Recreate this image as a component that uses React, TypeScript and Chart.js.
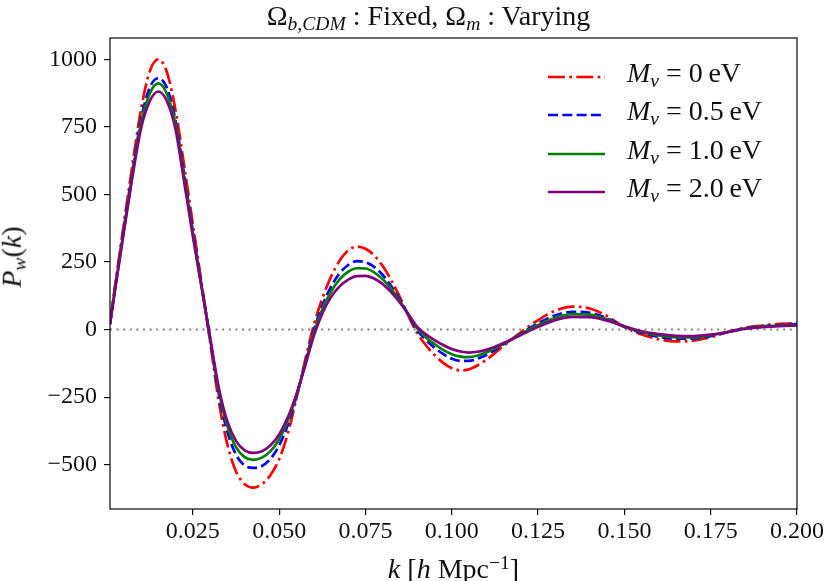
import React, { useEffect, useRef } from "react";
import { Chart, registerables } from "chart.js";

Chart.register(...registerables);

// wavenumber k [h/Mpc]
const K = [
  0.001, 0.0025, 0.005, 0.0075, 0.01, 0.0125, 0.015, 0.0175, 0.02, 0.0225,
  0.025, 0.0275, 0.03, 0.0325, 0.035, 0.0375, 0.04, 0.0425, 0.045, 0.0475,
  0.05, 0.0525, 0.055, 0.0575, 0.06, 0.0625, 0.065, 0.0675, 0.07, 0.0725,
  0.075, 0.0775, 0.08, 0.0825, 0.085, 0.0875, 0.09, 0.0925, 0.095, 0.0975,
  0.1, 0.1025, 0.105, 0.1075, 0.11, 0.115, 0.12, 0.125, 0.13, 0.135,
  0.14, 0.145, 0.15, 0.155, 0.16, 0.165, 0.17, 0.175, 0.18, 0.185,
  0.19, 0.195, 0.2,
];

// P_w(k) for M_nu = 0 eV
const PW_0 = [
  20, 165, 390, 610, 815, 955, 1000, 952, 810, 605,
  390, 175, -45, -265, -425, -525, -572, -585, -572, -538,
  -480, -385, -255, -115, 15, 115, 195, 255, 293, 307,
  299, 275, 235, 182, 119, 49, -14, -58, -94, -123,
  -143, -151, -147, -132, -112, -60, -10, 35, 70, 85,
  78, 50, 9, -18, -36, -44, -41, -28, -9, 7,
  15, 21, 24,
];

// P_w(k) for M_nu = 0.5 eV
const PW_05 = [
  20, 157, 374, 585, 777, 895, 930, 894, 772, 572,
  365, 166, -37, -238, -378, -463, -503, -512, -505, -478,
  -429, -352, -247, -126, -5, 88, 158, 208, 239, 253,
  249, 232, 202, 160, 110, 53, -2, -38, -67, -90,
  -108, -116, -116, -107, -94, -55, -15, 23, 53, 66,
  62, 42, 11, -12, -27, -34, -33, -24, -9, 5,
  12, 17, 20,
];

// P_w(k) for M_nu = 1.0 eV
const PW_10 = [
  20, 154, 368, 576, 763, 873, 911, 872, 758, 560,
  356, 162, -33, -225, -357, -435, -472, -482, -474, -450,
  -406, -337, -243, -130, -14, 75, 140, 186, 214, 227,
  226, 212, 186, 150, 105, 54, 4, -29, -54, -75,
  -91, -100, -102, -96, -85, -53, -17, 17, 44, 57,
  55, 38, 11, -9, -22, -29, -29, -21, -9, 4,
  11, 15, 17,
];

// P_w(k) for M_nu = 2.0 eV
const PW_20 = [
  20, 150, 360, 565, 745, 845, 881, 845, 740, 545,
  345, 158, -30, -215, -340, -412, -447, -456, -450, -428,
  -388, -325, -240, -135, -25, 60, 120, 160, 185, 198,
  199, 189, 168, 138, 100, 56, 10, -18, -39, -57,
  -72, -81, -85, -82, -75, -50, -20, 10, 35, 47,
  46, 33, 12, -6, -17, -23, -24, -19, -9, 3,
  9, 13, 15,
];

const ZERO_LEVEL = [0, 0];

const X_TICKS = [0.025, 0.05, 0.075, 0.1, 0.125, 0.15, 0.175, 0.2];
const Y_TICKS = [-500, -250, 0, 250, 500, 750, 1000];
const X_RANGE = [0.001, 0.2];
const Y_RANGE = [-664, 1079];

const MASS_LABELS = ["0", "0.5", "1.0", "2.0"];

const FONT = "'Liberation Serif', 'DejaVu Serif', serif";
const COLORS = ["#ff0000", "#0000ff", "#008000", "#800080"];
const DASHES: number[][] = [[17, 4.3, 2.7, 4.3], [10, 4.3], [], []];
const LINE_W = 2.7;

const framePlugin = {
  id: "frame",
  afterDatasetsDraw(chart: any) {
    const { ctx, chartArea: a } = chart;
    ctx.save();
    ctx.strokeStyle = "#111";
    ctx.lineWidth = 1.25;
    ctx.strokeRect(a.left, a.top, a.right - a.left, a.bottom - a.top);
    ctx.restore();
  },
};

const toPoints = (ys: number[]) => K.map((k, i) => ({ x: k, y: ys[i] }));

export default function App() {
  const ref = useRef<HTMLCanvasElement>(null);

  useEffect(() => {
    const series = [PW_0, PW_05, PW_10, PW_20];
    const datasets: any[] = series.map((s, i) => ({
      label: "M_nu = " + MASS_LABELS[i] + " eV",
      data: toPoints(s),
      borderColor: COLORS[i],
      backgroundColor: COLORS[i],
      borderWidth: LINE_W,
      borderDash: DASHES[i],
      pointRadius: 0,
      fill: false,
      cubicInterpolationMode: "monotone",
      order: 4 - i,
    }));
    datasets.push({
      label: "zero",
      data: [
        { x: K[0], y: ZERO_LEVEL[0] },
        { x: K[K.length - 1], y: ZERO_LEVEL[1] },
      ],
      borderColor: "#808080",
      borderWidth: 2,
      borderDash: [2, 4.6],
      pointRadius: 0,
      fill: false,
      order: 10,
    });

    const chart = new Chart(ref.current as HTMLCanvasElement, {
      type: "line",
      data: { datasets },
      options: {
        responsive: false,
        devicePixelRatio: 1,
        animation: false,
        layout: { padding: { left: 0, right: 29, top: 38, bottom: 0 } },
        plugins: {
          legend: { display: false },
          title: { display: false },
          tooltip: { enabled: false },
        },
        scales: {
          x: {
            type: "linear",
            min: X_RANGE[0],
            max: X_RANGE[1],
            afterBuildTicks: (s: any) => {
              s.ticks = X_TICKS.map((v) => ({ value: v }));
            },
            afterFit: (s: any) => {
              s.height = 72;
              s.paddingRight = 0;
              s.paddingLeft = 0;
            },
            grid: {
              display: true,
              drawOnChartArea: false,
              drawTicks: true,
              tickLength: 6,
              color: "#111",
              lineWidth: 1.2,
            },
            border: { display: false },
            ticks: {
              font: { family: FONT, size: 24 },
              color: "#111",
              padding: 2,
              maxRotation: 0,
              autoSkip: false,
              callback: (v: any) => Number(v).toFixed(3),
            },
          },
          y: {
            type: "linear",
            min: Y_RANGE[0],
            max: Y_RANGE[1],
            afterBuildTicks: (s: any) => {
              s.ticks = Y_TICKS.map((v) => ({ value: v }));
            },
            afterFit: (s: any) => {
              s.width = 110;
              s.paddingTop = 0;
              s.paddingBottom = 0;
            },
            grid: {
              display: true,
              drawOnChartArea: false,
              drawTicks: true,
              tickLength: 6,
              color: "#111",
              lineWidth: 1.2,
            },
            border: { display: false },
            ticks: {
              font: { family: FONT, size: 24 },
              color: "#111",
              padding: 7,
              autoSkip: false,
              callback: (v: any) => {
                const n = Number(v);
                return n < 0 ? "\u2212" + Math.abs(n) : String(n);
              },
            },
          },
        },
      },
      plugins: [framePlugin],
    } as any);
    return () => chart.destroy();
  }, []);

  const sub = { fontSize: "0.7em", verticalAlign: "-0.28em", fontStyle: "italic" } as const;
  const sup = { fontSize: "0.7em", verticalAlign: "0.45em" } as const;

  return (
    <div
      style={{
        position: "absolute",
        left: 0,
        top: 0,
        width: 826,
        height: 581,
        overflow: "hidden",
        background: "#fff",
        fontFamily: FONT,
        color: "#111",
      }}
    >
      <canvas
        ref={ref}
        width={826}
        height={581}
        style={{ position: "absolute", left: 0, top: 0, width: 826, height: 581 }}
      />
      {/* title */}
      <div
        style={{
          position: "absolute",
          left: 85,
          width: 687,
          top: -1,
          textAlign: "center",
          fontSize: 28,
          lineHeight: "34px",
          whiteSpace: "nowrap",
        }}
      >
        Ω<span style={sub}>b,CDM</span> : Fixed, Ω<span style={sub}>m</span> : Varying
      </div>
      {/* y label */}
      <div
        style={{
          position: "absolute",
          left: 16,
          top: 257,
          fontSize: 28,
          lineHeight: "30px",
          whiteSpace: "nowrap",
          transform: "translate(-50%, -50%) rotate(-90deg)",
        }}
      >
        <i>P</i>
        <span style={sub}>w</span>(<i>k</i>)
      </div>
      {/* x label */}
      <div
        style={{
          position: "absolute",
          left: 110,
          width: 687,
          top: 547,
          textAlign: "center",
          fontSize: 28,
          lineHeight: "32px",
          whiteSpace: "nowrap",
        }}
      >
        <i>k</i> [<i>h</i> Mpc<span style={sup}>−1</span>]
      </div>
      {/* legend */}
      <div style={{ position: "absolute", left: 548, top: 58 }}>
        {MASS_LABELS.map((m, i) => (
          <div
            key={m}
            style={{
              display: "flex",
              alignItems: "center",
              height: 38.3,
              whiteSpace: "nowrap",
            }}
          >
            <svg width={57} height={10} style={{ display: "block" }}>
              <line
                x1={0}
                y1={5}
                x2={57}
                y2={5}
                stroke={COLORS[i]}
                strokeWidth={LINE_W}
                strokeDasharray={DASHES[i].length ? DASHES[i].join(" ") : undefined}
              />
            </svg>
            <span style={{ marginLeft: 22, fontSize: 28, lineHeight: "30px" }}>
              <i>M</i>
              <span style={sub}>ν</span> = {m}
              {"\u2009"}eV
            </span>
          </div>
        ))}
      </div>
    </div>
  );
}
